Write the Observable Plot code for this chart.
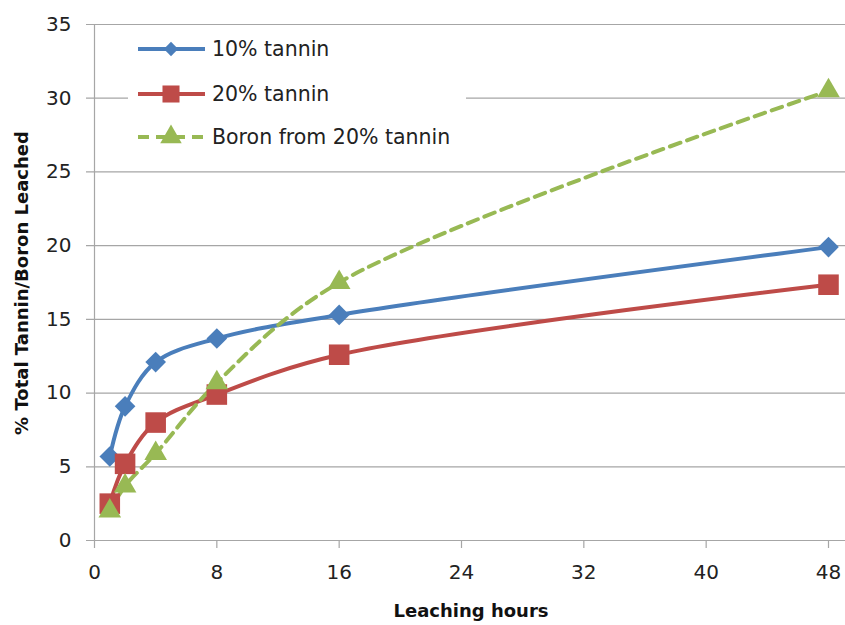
<!DOCTYPE html>
<html>
<head>
<meta charset="utf-8">
<script src="https://cdn.jsdelivr.net/npm/d3@7"></script>
<script src="https://cdn.jsdelivr.net/npm/@observablehq/plot@0.6"></script>
<style>
  body { margin: 0; background: #fff; }
  #wrap { position: relative; width: 845px; height: 625px; font-family: "DejaVu Sans", sans-serif; }
  #legend { position: absolute; left: 128px; top: 29px; }
</style>
</head>
<body>
<div id="wrap"></div>
<script>
// ---- data ----
const hours = [1, 2, 4, 8, 16, 48];
const tannin10 = [5.7, 9.1, 12.1, 13.7, 15.3, 19.9];
const tannin20 = [2.5, 5.2, 8.0, 9.9, 12.6, 17.35];
const boron20 = [2.0, 3.7, 5.9, 10.7, 17.5, 30.5];
const seriesNames = ["10% tannin", "20% tannin", "Boron from 20% tannin"];
const seriesColors = ["#4A7EBB", "#BE4B48", "#98B954"];
const seriesSymbols = ["diamond2", "square", "triangle"];
const seriesR = [9.3, 11.6, 8.4];
const seriesDash = [null, null, "11,7"];
const xTicks = [0, 8, 16, 24, 32, 40, 48];
const yTicks = [0, 5, 10, 15, 20, 25, 30, 35];
const xLabel = "Leaching hours";
const yLabel = "% Total Tannin/Boron Leached";

const allValues = [tannin10, tannin20, boron20];
const rows = [];
allValues.forEach((vals, si) => {
  vals.forEach((v, i) => rows.push({series: seriesNames[si], hours: hours[i], value: v}));
});

const gridColor = "#a6a6a6";
const font = "DejaVu Sans";

const marks = [
  Plot.ruleY(yTicks, {stroke: gridColor, strokeWidth: 1.2}),
  Plot.ruleX([0], {y1: 0, y2: 35, stroke: gridColor, strokeWidth: 1.2}),
  Plot.axisX({ticks: xTicks, tickSize: 8, tickPadding: 16, stroke: gridColor, strokeWidth: 1.2, fontSize: 20, fill: "#222", label: null, tickFormat: d => d}),
  Plot.axisY({ticks: yTicks, tickSize: 0, tickPadding: 15, fontSize: 20, fill: "#222", label: null}),
];
seriesNames.forEach((name, si) => {
  const data = rows.filter(d => d.series === name);
  marks.push(Plot.line(data, {
    x: "hours", y: "value", stroke: seriesColors[si], strokeWidth: 4,
    curve: "catmull-rom", strokeDasharray: seriesDash[si] || undefined
  }));
});
seriesNames.forEach((name, si) => {
  const data = rows.filter(d => d.series === name);
  marks.push(Plot.dot(data, {
    x: "hours", y: "value", symbol: () => seriesSymbols[si], r: seriesR[si],
    fill: seriesColors[si], stroke: "none"
  }));
});

const chart = Plot.plot({
  width: 845,
  height: 625,
  marginLeft: 86,
  marginRight: 0,
  marginTop: 24,
  marginBottom: 85,
  style: {fontFamily: font, background: "#fff"},
  x: {domain: [0, 48], range: [94, 828]},
  y: {domain: [0, 35]},
  symbol: {type: "identity"},
  marks
});
const wrap = document.getElementById("wrap");
wrap.appendChild(chart);

// axis titles
const svg = d3.select(chart);
svg.append("text").attr("x", 471).attr("y", 610)
  .attr("text-anchor", "middle").attr("dominant-baseline", "central")
  .attr("font-family", font).attr("font-weight", "bold").attr("font-size", 18).attr("fill", "#111")
  .text(xLabel);
svg.append("text").attr("transform", "translate(21,283) rotate(-90)")
  .attr("text-anchor", "middle").attr("dominant-baseline", "central")
  .attr("font-family", font).attr("font-weight", "bold").attr("font-size", 18).attr("fill", "#111")
  .text(yLabel);

// legend
const lg = d3.select(wrap).append("svg").attr("id", "legend")
  .attr("width", 338).attr("height", 130);
lg.append("rect").attr("width", 338).attr("height", 130).attr("fill", "#fff");
const rowY = [20, 65, 108];
const legSymbols = [d3.symbolDiamond2, d3.symbolSquare, d3.symbolTriangle];
const legSizes = [130, 290, 200];
seriesNames.forEach((name, si) => {
  const g = lg.append("g").attr("transform", `translate(0,${rowY[si]})`);
  g.append("line").attr("x1", 10).attr("x2", 77).attr("y1", 0).attr("y2", 0)
    .attr("stroke", seriesColors[si]).attr("stroke-width", 4)
    .attr("stroke-dasharray", seriesDash[si]);
  g.append("path").attr("d", d3.symbol(legSymbols[si], legSizes[si])())
    .attr("transform", "translate(43,0)").attr("fill", seriesColors[si]);
  g.append("text").attr("x", 84).attr("y", 0).attr("dominant-baseline", "central")
    .attr("font-family", font).attr("font-size", 20.5).attr("fill", "#222").text(name);
});
</script>
</body>
</html>
